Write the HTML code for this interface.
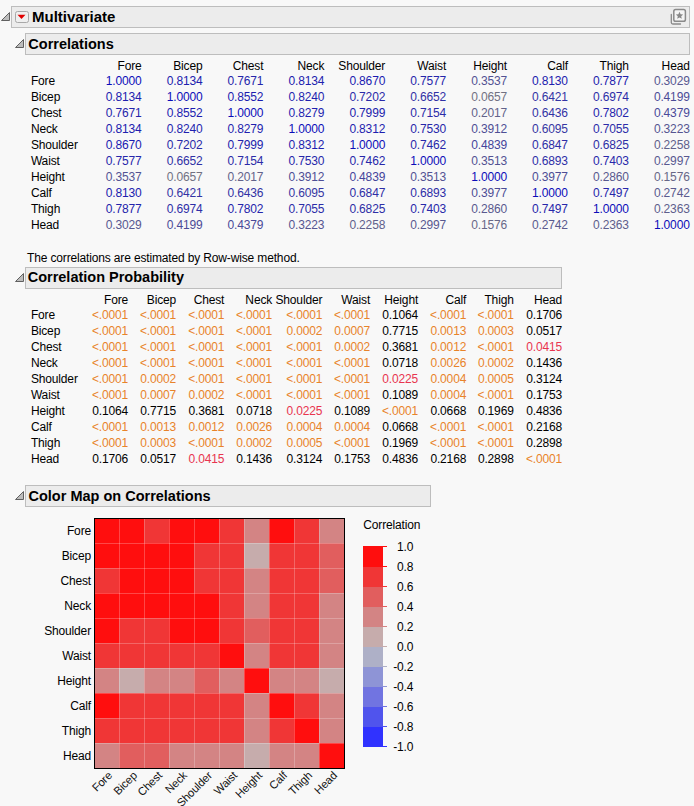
<!DOCTYPE html>
<html><head><meta charset="utf-8"><style>
html,body{margin:0;padding:0;}
body{width:694px;height:806px;background:#f8f8f8;position:relative;overflow:hidden;font-family:"Liberation Sans", sans-serif;}
.t{position:absolute;white-space:nowrap;letter-spacing:-0.15px;}
.rot{transform-origin:100% 0%;transform:rotate(-45deg);}
</style></head><body>
<div style="position:absolute;left:11px;top:6px;width:677px;height:20px;box-sizing:content-box;background:#ececec;border:1px solid #bdbdbd"></div><div style="position:absolute;left:25px;top:33px;width:663px;height:20px;box-sizing:content-box;background:#ececec;border:1px solid #bdbdbd"></div><div style="position:absolute;left:25px;top:267px;width:535px;height:20px;box-sizing:content-box;background:#ececec;border:1px solid #bdbdbd"></div><div style="position:absolute;left:25px;top:485px;width:404px;height:20px;box-sizing:content-box;background:#ececec;border:1px solid #bdbdbd"></div>
<svg style="position:absolute;left:0;top:0" width="694" height="806"><polygon points="1.5,20.5 9.5,20.5 9.5,12.5" fill="#bdbdbd" stroke="#606060" stroke-width="1" stroke-linejoin="round"/><polygon points="15.5,47.5 23.5,47.5 23.5,39.5" fill="#bdbdbd" stroke="#606060" stroke-width="1" stroke-linejoin="round"/><polygon points="15.5,281.5 23.5,281.5 23.5,273.5" fill="#bdbdbd" stroke="#606060" stroke-width="1" stroke-linejoin="round"/><polygon points="15.5,499.5 23.5,499.5 23.5,491.5" fill="#bdbdbd" stroke="#606060" stroke-width="1" stroke-linejoin="round"/><rect x="15.5" y="11.5" width="13" height="11" rx="2" ry="2" fill="#efefef" stroke="#a8a8a8" stroke-width="1"/><polygon points="17.5,14.8 25.5,14.8 21.5,19" fill="#e00000"/><path d="M671.3,14.5 V22.5 Q671.3,24 672.8,24 H680.5" fill="none" stroke="#8a8a8a" stroke-width="1.3" stroke-linecap="round"/><rect x="673.8" y="9.6" width="11.6" height="11.6" rx="1.8" fill="#f4f4f4" stroke="#8a8a8a" stroke-width="1.5"/><polygon points="679.5,11.8 680.6,14.3 683.2,14.5 681.2,16.2 681.8,18.8 679.5,17.4 677.2,18.8 677.8,16.2 675.8,14.5 678.4,14.3" fill="#888"/><rect x="95" y="519" width="24" height="24" fill="#ff0e0e"/><rect x="119" y="519" width="25" height="24" fill="#ff0e0e"/><rect x="144" y="519" width="25" height="24" fill="#f03636"/><rect x="169" y="519" width="25" height="24" fill="#ff0e0e"/><rect x="194" y="519" width="25" height="24" fill="#ff0e0e"/><rect x="219" y="519" width="25" height="24" fill="#f03636"/><rect x="244" y="519" width="25" height="24" fill="#d38484"/><rect x="269" y="519" width="25" height="24" fill="#ff0e0e"/><rect x="294" y="519" width="25" height="24" fill="#f03636"/><rect x="319" y="519" width="25" height="24" fill="#d38484"/><rect x="95" y="543" width="24" height="25" fill="#ff0e0e"/><rect x="119" y="543" width="25" height="25" fill="#ff0e0e"/><rect x="144" y="543" width="25" height="25" fill="#ff0e0e"/><rect x="169" y="543" width="25" height="25" fill="#ff0e0e"/><rect x="194" y="543" width="25" height="25" fill="#f03636"/><rect x="219" y="543" width="25" height="25" fill="#f03636"/><rect x="244" y="543" width="25" height="25" fill="#c6acac"/><rect x="269" y="543" width="25" height="25" fill="#f03636"/><rect x="294" y="543" width="25" height="25" fill="#f03636"/><rect x="319" y="543" width="25" height="25" fill="#e15e5e"/><rect x="95" y="568" width="24" height="25" fill="#f03636"/><rect x="119" y="568" width="25" height="25" fill="#ff0e0e"/><rect x="144" y="568" width="25" height="25" fill="#ff0e0e"/><rect x="169" y="568" width="25" height="25" fill="#ff0e0e"/><rect x="194" y="568" width="25" height="25" fill="#f03636"/><rect x="219" y="568" width="25" height="25" fill="#f03636"/><rect x="244" y="568" width="25" height="25" fill="#d38484"/><rect x="269" y="568" width="25" height="25" fill="#f03636"/><rect x="294" y="568" width="25" height="25" fill="#f03636"/><rect x="319" y="568" width="25" height="25" fill="#e15e5e"/><rect x="95" y="593" width="24" height="25" fill="#ff0e0e"/><rect x="119" y="593" width="25" height="25" fill="#ff0e0e"/><rect x="144" y="593" width="25" height="25" fill="#ff0e0e"/><rect x="169" y="593" width="25" height="25" fill="#ff0e0e"/><rect x="194" y="593" width="25" height="25" fill="#ff0e0e"/><rect x="219" y="593" width="25" height="25" fill="#f03636"/><rect x="244" y="593" width="25" height="25" fill="#d38484"/><rect x="269" y="593" width="25" height="25" fill="#f03636"/><rect x="294" y="593" width="25" height="25" fill="#f03636"/><rect x="319" y="593" width="25" height="25" fill="#d38484"/><rect x="95" y="618" width="24" height="25" fill="#ff0e0e"/><rect x="119" y="618" width="25" height="25" fill="#f03636"/><rect x="144" y="618" width="25" height="25" fill="#f03636"/><rect x="169" y="618" width="25" height="25" fill="#ff0e0e"/><rect x="194" y="618" width="25" height="25" fill="#ff0e0e"/><rect x="219" y="618" width="25" height="25" fill="#f03636"/><rect x="244" y="618" width="25" height="25" fill="#e15e5e"/><rect x="269" y="618" width="25" height="25" fill="#f03636"/><rect x="294" y="618" width="25" height="25" fill="#f03636"/><rect x="319" y="618" width="25" height="25" fill="#d38484"/><rect x="95" y="643" width="24" height="25" fill="#f03636"/><rect x="119" y="643" width="25" height="25" fill="#f03636"/><rect x="144" y="643" width="25" height="25" fill="#f03636"/><rect x="169" y="643" width="25" height="25" fill="#f03636"/><rect x="194" y="643" width="25" height="25" fill="#f03636"/><rect x="219" y="643" width="25" height="25" fill="#ff0e0e"/><rect x="244" y="643" width="25" height="25" fill="#d38484"/><rect x="269" y="643" width="25" height="25" fill="#f03636"/><rect x="294" y="643" width="25" height="25" fill="#f03636"/><rect x="319" y="643" width="25" height="25" fill="#d38484"/><rect x="95" y="668" width="24" height="25" fill="#d38484"/><rect x="119" y="668" width="25" height="25" fill="#c6acac"/><rect x="144" y="668" width="25" height="25" fill="#d38484"/><rect x="169" y="668" width="25" height="25" fill="#d38484"/><rect x="194" y="668" width="25" height="25" fill="#e15e5e"/><rect x="219" y="668" width="25" height="25" fill="#d38484"/><rect x="244" y="668" width="25" height="25" fill="#ff0e0e"/><rect x="269" y="668" width="25" height="25" fill="#d38484"/><rect x="294" y="668" width="25" height="25" fill="#d38484"/><rect x="319" y="668" width="25" height="25" fill="#c6acac"/><rect x="95" y="693" width="24" height="25" fill="#ff0e0e"/><rect x="119" y="693" width="25" height="25" fill="#f03636"/><rect x="144" y="693" width="25" height="25" fill="#f03636"/><rect x="169" y="693" width="25" height="25" fill="#f03636"/><rect x="194" y="693" width="25" height="25" fill="#f03636"/><rect x="219" y="693" width="25" height="25" fill="#f03636"/><rect x="244" y="693" width="25" height="25" fill="#d38484"/><rect x="269" y="693" width="25" height="25" fill="#ff0e0e"/><rect x="294" y="693" width="25" height="25" fill="#f03636"/><rect x="319" y="693" width="25" height="25" fill="#d38484"/><rect x="95" y="718" width="24" height="25" fill="#f03636"/><rect x="119" y="718" width="25" height="25" fill="#f03636"/><rect x="144" y="718" width="25" height="25" fill="#f03636"/><rect x="169" y="718" width="25" height="25" fill="#f03636"/><rect x="194" y="718" width="25" height="25" fill="#f03636"/><rect x="219" y="718" width="25" height="25" fill="#f03636"/><rect x="244" y="718" width="25" height="25" fill="#d38484"/><rect x="269" y="718" width="25" height="25" fill="#f03636"/><rect x="294" y="718" width="25" height="25" fill="#ff0e0e"/><rect x="319" y="718" width="25" height="25" fill="#d38484"/><rect x="95" y="743" width="24" height="25" fill="#d38484"/><rect x="119" y="743" width="25" height="25" fill="#e15e5e"/><rect x="144" y="743" width="25" height="25" fill="#e15e5e"/><rect x="169" y="743" width="25" height="25" fill="#d38484"/><rect x="194" y="743" width="25" height="25" fill="#d38484"/><rect x="219" y="743" width="25" height="25" fill="#d38484"/><rect x="244" y="743" width="25" height="25" fill="#c6acac"/><rect x="269" y="743" width="25" height="25" fill="#d38484"/><rect x="294" y="743" width="25" height="25" fill="#d38484"/><rect x="319" y="743" width="25" height="25" fill="#ff0e0e"/><line x1="119.5" y1="519" x2="119.5" y2="768" stroke="rgba(255,255,255,0.24)" stroke-width="1"/><line x1="95" y1="543.5" x2="344" y2="543.5" stroke="rgba(255,255,255,0.24)" stroke-width="1"/><line x1="144.5" y1="519" x2="144.5" y2="768" stroke="rgba(255,255,255,0.24)" stroke-width="1"/><line x1="95" y1="568.5" x2="344" y2="568.5" stroke="rgba(255,255,255,0.24)" stroke-width="1"/><line x1="169.5" y1="519" x2="169.5" y2="768" stroke="rgba(255,255,255,0.24)" stroke-width="1"/><line x1="95" y1="593.5" x2="344" y2="593.5" stroke="rgba(255,255,255,0.24)" stroke-width="1"/><line x1="194.5" y1="519" x2="194.5" y2="768" stroke="rgba(255,255,255,0.24)" stroke-width="1"/><line x1="95" y1="618.5" x2="344" y2="618.5" stroke="rgba(255,255,255,0.24)" stroke-width="1"/><line x1="219.5" y1="519" x2="219.5" y2="768" stroke="rgba(255,255,255,0.24)" stroke-width="1"/><line x1="95" y1="643.5" x2="344" y2="643.5" stroke="rgba(255,255,255,0.24)" stroke-width="1"/><line x1="244.5" y1="519" x2="244.5" y2="768" stroke="rgba(255,255,255,0.24)" stroke-width="1"/><line x1="95" y1="668.5" x2="344" y2="668.5" stroke="rgba(255,255,255,0.24)" stroke-width="1"/><line x1="269.5" y1="519" x2="269.5" y2="768" stroke="rgba(255,255,255,0.24)" stroke-width="1"/><line x1="95" y1="693.5" x2="344" y2="693.5" stroke="rgba(255,255,255,0.24)" stroke-width="1"/><line x1="294.5" y1="519" x2="294.5" y2="768" stroke="rgba(255,255,255,0.24)" stroke-width="1"/><line x1="95" y1="718.5" x2="344" y2="718.5" stroke="rgba(255,255,255,0.24)" stroke-width="1"/><line x1="319.5" y1="519" x2="319.5" y2="768" stroke="rgba(255,255,255,0.24)" stroke-width="1"/><line x1="95" y1="743.5" x2="344" y2="743.5" stroke="rgba(255,255,255,0.24)" stroke-width="1"/><rect x="94.5" y="518.5" width="250" height="250" fill="none" stroke="#000" stroke-width="1"/><text x="112.80" y="776.20" transform="rotate(-45 112.80 776.20)" text-anchor="end" font-size="11.3" letter-spacing="-0.1" fill="#111">Fore</text><text x="137.80" y="776.20" transform="rotate(-45 137.80 776.20)" text-anchor="end" font-size="11.3" letter-spacing="-0.1" fill="#111">Bicep</text><text x="162.80" y="776.20" transform="rotate(-45 162.80 776.20)" text-anchor="end" font-size="11.3" letter-spacing="-0.1" fill="#111">Chest</text><text x="187.80" y="776.20" transform="rotate(-45 187.80 776.20)" text-anchor="end" font-size="11.3" letter-spacing="-0.1" fill="#111">Neck</text><text x="212.80" y="776.20" transform="rotate(-45 212.80 776.20)" text-anchor="end" font-size="11.3" letter-spacing="-0.1" fill="#111">Shoulder</text><text x="237.80" y="776.20" transform="rotate(-45 237.80 776.20)" text-anchor="end" font-size="11.3" letter-spacing="-0.1" fill="#111">Waist</text><text x="262.80" y="776.20" transform="rotate(-45 262.80 776.20)" text-anchor="end" font-size="11.3" letter-spacing="-0.1" fill="#111">Height</text><text x="287.80" y="776.20" transform="rotate(-45 287.80 776.20)" text-anchor="end" font-size="11.3" letter-spacing="-0.1" fill="#111">Calf</text><text x="312.80" y="776.20" transform="rotate(-45 312.80 776.20)" text-anchor="end" font-size="11.3" letter-spacing="-0.1" fill="#111">Thigh</text><text x="337.80" y="776.20" transform="rotate(-45 337.80 776.20)" text-anchor="end" font-size="11.3" letter-spacing="-0.1" fill="#111">Head</text><rect x="363" y="546" width="20" height="21" fill="#ff0e0e"/><rect x="363" y="567" width="20" height="20" fill="#f03636"/><rect x="363" y="587" width="20" height="20" fill="#e15e5e"/><rect x="363" y="607" width="20" height="20" fill="#d38484"/><rect x="363" y="627" width="20" height="20" fill="#c6acac"/><rect x="363" y="647" width="20" height="20" fill="#aeb0c7"/><rect x="363" y="667" width="20" height="20" fill="#8e94d6"/><rect x="363" y="687" width="20" height="20" fill="#7174e1"/><rect x="363" y="707" width="20" height="20" fill="#5054ed"/><rect x="363" y="727" width="20" height="20" fill="#3032ff"/><line x1="383" y1="546.5" x2="387" y2="546.5" stroke="#ff0e0e" stroke-width="1"/><line x1="383" y1="566.5" x2="387" y2="566.5" stroke="#ff0e0e" stroke-width="1"/><line x1="383" y1="586.5" x2="387" y2="586.5" stroke="#f03636" stroke-width="1"/><line x1="383" y1="606.5" x2="387" y2="606.5" stroke="#e15e5e" stroke-width="1"/><line x1="383" y1="626.5" x2="387" y2="626.5" stroke="#d38484" stroke-width="1"/><line x1="383" y1="646.5" x2="387" y2="646.5" stroke="#c6acac" stroke-width="1"/><line x1="383" y1="666.5" x2="387" y2="666.5" stroke="#aeb0c7" stroke-width="1"/><line x1="383" y1="686.5" x2="387" y2="686.5" stroke="#8e94d6" stroke-width="1"/><line x1="383" y1="706.5" x2="387" y2="706.5" stroke="#7174e1" stroke-width="1"/><line x1="383" y1="726.5" x2="387" y2="726.5" stroke="#5054ed" stroke-width="1"/><line x1="383" y1="746.5" x2="387" y2="746.5" stroke="#3032ff" stroke-width="1"/></svg>
<div class="t" style="left:32.00px;top:8.18px;font-size:15px;line-height:17.25px;color:#000;font-weight:bold;letter-spacing:0;">Multivariate</div><div class="t" style="left:28.30px;top:36.24px;font-size:14.5px;line-height:16.67px;color:#000;font-weight:bold;letter-spacing:0;">Correlations</div><div class="t" style="left:27.70px;top:269.14px;font-size:14.5px;line-height:16.67px;color:#000;font-weight:bold;letter-spacing:0;">Correlation Probability</div><div class="t" style="left:28.50px;top:487.54px;font-size:14.5px;line-height:16.67px;color:#000;font-weight:bold;letter-spacing:0;">Color Map on Correlations</div><div class="t" style="right:552.40px;top:59.74px;font-size:12px;line-height:13.80px;color:#000;">Fore</div><div class="t" style="right:491.50px;top:59.74px;font-size:12px;line-height:13.80px;color:#000;">Bicep</div><div class="t" style="right:430.60px;top:59.74px;font-size:12px;line-height:13.80px;color:#000;">Chest</div><div class="t" style="right:369.70px;top:59.74px;font-size:12px;line-height:13.80px;color:#000;">Neck</div><div class="t" style="right:308.80px;top:59.74px;font-size:12px;line-height:13.80px;color:#000;">Shoulder</div><div class="t" style="right:247.90px;top:59.74px;font-size:12px;line-height:13.80px;color:#000;">Waist</div><div class="t" style="right:187.00px;top:59.74px;font-size:12px;line-height:13.80px;color:#000;">Height</div><div class="t" style="right:126.10px;top:59.74px;font-size:12px;line-height:13.80px;color:#000;">Calf</div><div class="t" style="right:65.20px;top:59.74px;font-size:12px;line-height:13.80px;color:#000;">Thigh</div><div class="t" style="right:4.30px;top:59.74px;font-size:12px;line-height:13.80px;color:#000;">Head</div><div class="t" style="left:30.90px;top:74.74px;font-size:12px;line-height:13.80px;color:#000;">Fore</div><div class="t" style="right:552.40px;top:74.74px;font-size:12px;line-height:13.80px;color:#0c0cb9;">1.0000</div><div class="t" style="right:491.50px;top:74.74px;font-size:12px;line-height:13.80px;color:#2020ae;">0.8134</div><div class="t" style="right:430.60px;top:74.74px;font-size:12px;line-height:13.80px;color:#2525ab;">0.7671</div><div class="t" style="right:369.70px;top:74.74px;font-size:12px;line-height:13.80px;color:#2020ae;">0.8134</div><div class="t" style="right:308.80px;top:74.74px;font-size:12px;line-height:13.80px;color:#1a1ab1;">0.8670</div><div class="t" style="right:247.90px;top:74.74px;font-size:12px;line-height:13.80px;color:#2626ab;">0.7577</div><div class="t" style="right:187.00px;top:74.74px;font-size:12px;line-height:13.80px;color:#525293;">0.3537</div><div class="t" style="right:126.10px;top:74.74px;font-size:12px;line-height:13.80px;color:#2020ae;">0.8130</div><div class="t" style="right:65.20px;top:74.74px;font-size:12px;line-height:13.80px;color:#2323ac;">0.7877</div><div class="t" style="right:4.30px;top:74.74px;font-size:12px;line-height:13.80px;color:#575790;">0.3029</div><div class="t" style="left:30.90px;top:90.74px;font-size:12px;line-height:13.80px;color:#000;">Bicep</div><div class="t" style="right:552.40px;top:90.74px;font-size:12px;line-height:13.80px;color:#2020ae;">0.8134</div><div class="t" style="right:491.50px;top:90.74px;font-size:12px;line-height:13.80px;color:#0c0cb9;">1.0000</div><div class="t" style="right:430.60px;top:90.74px;font-size:12px;line-height:13.80px;color:#1c1cb0;">0.8552</div><div class="t" style="right:369.70px;top:90.74px;font-size:12px;line-height:13.80px;color:#1f1faf;">0.8240</div><div class="t" style="right:308.80px;top:90.74px;font-size:12px;line-height:13.80px;color:#2a2aa8;">0.7202</div><div class="t" style="right:247.90px;top:90.74px;font-size:12px;line-height:13.80px;color:#3030a5;">0.6652</div><div class="t" style="right:187.00px;top:90.74px;font-size:12px;line-height:13.80px;color:#717182;">0.0657</div><div class="t" style="right:126.10px;top:90.74px;font-size:12px;line-height:13.80px;color:#3333a4;">0.6421</div><div class="t" style="right:65.20px;top:90.74px;font-size:12px;line-height:13.80px;color:#2d2da7;">0.6974</div><div class="t" style="right:4.30px;top:90.74px;font-size:12px;line-height:13.80px;color:#4b4b97;">0.4199</div><div class="t" style="left:30.90px;top:106.74px;font-size:12px;line-height:13.80px;color:#000;">Chest</div><div class="t" style="right:552.40px;top:106.74px;font-size:12px;line-height:13.80px;color:#2525ab;">0.7671</div><div class="t" style="right:491.50px;top:106.74px;font-size:12px;line-height:13.80px;color:#1c1cb0;">0.8552</div><div class="t" style="right:430.60px;top:106.74px;font-size:12px;line-height:13.80px;color:#0c0cb9;">1.0000</div><div class="t" style="right:369.70px;top:106.74px;font-size:12px;line-height:13.80px;color:#1f1faf;">0.8279</div><div class="t" style="right:308.80px;top:106.74px;font-size:12px;line-height:13.80px;color:#2222ad;">0.7999</div><div class="t" style="right:247.90px;top:106.74px;font-size:12px;line-height:13.80px;color:#2b2ba8;">0.7154</div><div class="t" style="right:187.00px;top:106.74px;font-size:12px;line-height:13.80px;color:#62628a;">0.2017</div><div class="t" style="right:126.10px;top:106.74px;font-size:12px;line-height:13.80px;color:#3232a4;">0.6436</div><div class="t" style="right:65.20px;top:106.74px;font-size:12px;line-height:13.80px;color:#2424ac;">0.7802</div><div class="t" style="right:4.30px;top:106.74px;font-size:12px;line-height:13.80px;color:#494998;">0.4379</div><div class="t" style="left:30.90px;top:122.74px;font-size:12px;line-height:13.80px;color:#000;">Neck</div><div class="t" style="right:552.40px;top:122.74px;font-size:12px;line-height:13.80px;color:#2020ae;">0.8134</div><div class="t" style="right:491.50px;top:122.74px;font-size:12px;line-height:13.80px;color:#1f1faf;">0.8240</div><div class="t" style="right:430.60px;top:122.74px;font-size:12px;line-height:13.80px;color:#1f1faf;">0.8279</div><div class="t" style="right:369.70px;top:122.74px;font-size:12px;line-height:13.80px;color:#0c0cb9;">1.0000</div><div class="t" style="right:308.80px;top:122.74px;font-size:12px;line-height:13.80px;color:#1e1eaf;">0.8312</div><div class="t" style="right:247.90px;top:122.74px;font-size:12px;line-height:13.80px;color:#2727aa;">0.7530</div><div class="t" style="right:187.00px;top:122.74px;font-size:12px;line-height:13.80px;color:#4e4e95;">0.3912</div><div class="t" style="right:126.10px;top:122.74px;font-size:12px;line-height:13.80px;color:#3636a2;">0.6095</div><div class="t" style="right:65.20px;top:122.74px;font-size:12px;line-height:13.80px;color:#2c2ca8;">0.7055</div><div class="t" style="right:4.30px;top:122.74px;font-size:12px;line-height:13.80px;color:#555591;">0.3223</div><div class="t" style="left:30.90px;top:138.74px;font-size:12px;line-height:13.80px;color:#000;">Shoulder</div><div class="t" style="right:552.40px;top:138.74px;font-size:12px;line-height:13.80px;color:#1a1ab1;">0.8670</div><div class="t" style="right:491.50px;top:138.74px;font-size:12px;line-height:13.80px;color:#2a2aa8;">0.7202</div><div class="t" style="right:430.60px;top:138.74px;font-size:12px;line-height:13.80px;color:#2222ad;">0.7999</div><div class="t" style="right:369.70px;top:138.74px;font-size:12px;line-height:13.80px;color:#1e1eaf;">0.8312</div><div class="t" style="right:308.80px;top:138.74px;font-size:12px;line-height:13.80px;color:#0c0cb9;">1.0000</div><div class="t" style="right:247.90px;top:138.74px;font-size:12px;line-height:13.80px;color:#2727aa;">0.7462</div><div class="t" style="right:187.00px;top:138.74px;font-size:12px;line-height:13.80px;color:#44449b;">0.4839</div><div class="t" style="right:126.10px;top:138.74px;font-size:12px;line-height:13.80px;color:#2e2ea6;">0.6847</div><div class="t" style="right:65.20px;top:138.74px;font-size:12px;line-height:13.80px;color:#2e2ea6;">0.6825</div><div class="t" style="right:4.30px;top:138.74px;font-size:12px;line-height:13.80px;color:#60608b;">0.2258</div><div class="t" style="left:30.90px;top:154.74px;font-size:12px;line-height:13.80px;color:#000;">Waist</div><div class="t" style="right:552.40px;top:154.74px;font-size:12px;line-height:13.80px;color:#2626ab;">0.7577</div><div class="t" style="right:491.50px;top:154.74px;font-size:12px;line-height:13.80px;color:#3030a5;">0.6652</div><div class="t" style="right:430.60px;top:154.74px;font-size:12px;line-height:13.80px;color:#2b2ba8;">0.7154</div><div class="t" style="right:369.70px;top:154.74px;font-size:12px;line-height:13.80px;color:#2727aa;">0.7530</div><div class="t" style="right:308.80px;top:154.74px;font-size:12px;line-height:13.80px;color:#2727aa;">0.7462</div><div class="t" style="right:247.90px;top:154.74px;font-size:12px;line-height:13.80px;color:#0c0cb9;">1.0000</div><div class="t" style="right:187.00px;top:154.74px;font-size:12px;line-height:13.80px;color:#525293;">0.3513</div><div class="t" style="right:126.10px;top:154.74px;font-size:12px;line-height:13.80px;color:#2e2ea7;">0.6893</div><div class="t" style="right:65.20px;top:154.74px;font-size:12px;line-height:13.80px;color:#2828aa;">0.7403</div><div class="t" style="right:4.30px;top:154.74px;font-size:12px;line-height:13.80px;color:#585890;">0.2997</div><div class="t" style="left:30.90px;top:170.74px;font-size:12px;line-height:13.80px;color:#000;">Height</div><div class="t" style="right:552.40px;top:170.74px;font-size:12px;line-height:13.80px;color:#525293;">0.3537</div><div class="t" style="right:491.50px;top:170.74px;font-size:12px;line-height:13.80px;color:#717182;">0.0657</div><div class="t" style="right:430.60px;top:170.74px;font-size:12px;line-height:13.80px;color:#62628a;">0.2017</div><div class="t" style="right:369.70px;top:170.74px;font-size:12px;line-height:13.80px;color:#4e4e95;">0.3912</div><div class="t" style="right:308.80px;top:170.74px;font-size:12px;line-height:13.80px;color:#44449b;">0.4839</div><div class="t" style="right:247.90px;top:170.74px;font-size:12px;line-height:13.80px;color:#525293;">0.3513</div><div class="t" style="right:187.00px;top:170.74px;font-size:12px;line-height:13.80px;color:#0c0cb9;">1.0000</div><div class="t" style="right:126.10px;top:170.74px;font-size:12px;line-height:13.80px;color:#4d4d95;">0.3977</div><div class="t" style="right:65.20px;top:170.74px;font-size:12px;line-height:13.80px;color:#59598f;">0.2860</div><div class="t" style="right:4.30px;top:170.74px;font-size:12px;line-height:13.80px;color:#676787;">0.1576</div><div class="t" style="left:30.90px;top:186.74px;font-size:12px;line-height:13.80px;color:#000;">Calf</div><div class="t" style="right:552.40px;top:186.74px;font-size:12px;line-height:13.80px;color:#2020ae;">0.8130</div><div class="t" style="right:491.50px;top:186.74px;font-size:12px;line-height:13.80px;color:#3333a4;">0.6421</div><div class="t" style="right:430.60px;top:186.74px;font-size:12px;line-height:13.80px;color:#3232a4;">0.6436</div><div class="t" style="right:369.70px;top:186.74px;font-size:12px;line-height:13.80px;color:#3636a2;">0.6095</div><div class="t" style="right:308.80px;top:186.74px;font-size:12px;line-height:13.80px;color:#2e2ea6;">0.6847</div><div class="t" style="right:247.90px;top:186.74px;font-size:12px;line-height:13.80px;color:#2e2ea7;">0.6893</div><div class="t" style="right:187.00px;top:186.74px;font-size:12px;line-height:13.80px;color:#4d4d95;">0.3977</div><div class="t" style="right:126.10px;top:186.74px;font-size:12px;line-height:13.80px;color:#0c0cb9;">1.0000</div><div class="t" style="right:65.20px;top:186.74px;font-size:12px;line-height:13.80px;color:#2727aa;">0.7497</div><div class="t" style="right:4.30px;top:186.74px;font-size:12px;line-height:13.80px;color:#5a5a8e;">0.2742</div><div class="t" style="left:30.90px;top:202.74px;font-size:12px;line-height:13.80px;color:#000;">Thigh</div><div class="t" style="right:552.40px;top:202.74px;font-size:12px;line-height:13.80px;color:#2323ac;">0.7877</div><div class="t" style="right:491.50px;top:202.74px;font-size:12px;line-height:13.80px;color:#2d2da7;">0.6974</div><div class="t" style="right:430.60px;top:202.74px;font-size:12px;line-height:13.80px;color:#2424ac;">0.7802</div><div class="t" style="right:369.70px;top:202.74px;font-size:12px;line-height:13.80px;color:#2c2ca8;">0.7055</div><div class="t" style="right:308.80px;top:202.74px;font-size:12px;line-height:13.80px;color:#2e2ea6;">0.6825</div><div class="t" style="right:247.90px;top:202.74px;font-size:12px;line-height:13.80px;color:#2828aa;">0.7403</div><div class="t" style="right:187.00px;top:202.74px;font-size:12px;line-height:13.80px;color:#59598f;">0.2860</div><div class="t" style="right:126.10px;top:202.74px;font-size:12px;line-height:13.80px;color:#2727aa;">0.7497</div><div class="t" style="right:65.20px;top:202.74px;font-size:12px;line-height:13.80px;color:#0c0cb9;">1.0000</div><div class="t" style="right:4.30px;top:202.74px;font-size:12px;line-height:13.80px;color:#5e5e8c;">0.2363</div><div class="t" style="left:30.90px;top:218.74px;font-size:12px;line-height:13.80px;color:#000;">Head</div><div class="t" style="right:552.40px;top:218.74px;font-size:12px;line-height:13.80px;color:#575790;">0.3029</div><div class="t" style="right:491.50px;top:218.74px;font-size:12px;line-height:13.80px;color:#4b4b97;">0.4199</div><div class="t" style="right:430.60px;top:218.74px;font-size:12px;line-height:13.80px;color:#494998;">0.4379</div><div class="t" style="right:369.70px;top:218.74px;font-size:12px;line-height:13.80px;color:#555591;">0.3223</div><div class="t" style="right:308.80px;top:218.74px;font-size:12px;line-height:13.80px;color:#60608b;">0.2258</div><div class="t" style="right:247.90px;top:218.74px;font-size:12px;line-height:13.80px;color:#585890;">0.2997</div><div class="t" style="right:187.00px;top:218.74px;font-size:12px;line-height:13.80px;color:#676787;">0.1576</div><div class="t" style="right:126.10px;top:218.74px;font-size:12px;line-height:13.80px;color:#5a5a8e;">0.2742</div><div class="t" style="right:65.20px;top:218.74px;font-size:12px;line-height:13.80px;color:#5e5e8c;">0.2363</div><div class="t" style="right:4.30px;top:218.74px;font-size:12px;line-height:13.80px;color:#0c0cb9;">1.0000</div><div class="t" style="left:27.00px;top:251.64px;font-size:12px;line-height:13.80px;color:#000;">The correlations are estimated by Row-wise method.</div><div class="t" style="right:565.90px;top:294.04px;font-size:12px;line-height:13.80px;color:#000;">Fore</div><div class="t" style="right:517.90px;top:294.04px;font-size:12px;line-height:13.80px;color:#000;">Bicep</div><div class="t" style="right:469.70px;top:294.04px;font-size:12px;line-height:13.80px;color:#000;">Chest</div><div class="t" style="right:421.90px;top:294.04px;font-size:12px;line-height:13.80px;color:#000;">Neck</div><div class="t" style="right:371.70px;top:294.04px;font-size:12px;line-height:13.80px;color:#000;">Shoulder</div><div class="t" style="right:323.90px;top:294.04px;font-size:12px;line-height:13.80px;color:#000;">Waist</div><div class="t" style="right:275.90px;top:294.04px;font-size:12px;line-height:13.80px;color:#000;">Height</div><div class="t" style="right:227.80px;top:294.04px;font-size:12px;line-height:13.80px;color:#000;">Calf</div><div class="t" style="right:180.30px;top:294.04px;font-size:12px;line-height:13.80px;color:#000;">Thigh</div><div class="t" style="right:131.90px;top:294.04px;font-size:12px;line-height:13.80px;color:#000;">Head</div><div class="t" style="left:30.90px;top:308.54px;font-size:12px;line-height:13.80px;color:#000;">Fore</div><div class="t" style="right:565.90px;top:308.54px;font-size:12px;line-height:13.80px;color:#e8832a;">&lt;.0001</div><div class="t" style="right:517.90px;top:308.54px;font-size:12px;line-height:13.80px;color:#e8832a;">&lt;.0001</div><div class="t" style="right:469.70px;top:308.54px;font-size:12px;line-height:13.80px;color:#e8832a;">&lt;.0001</div><div class="t" style="right:421.90px;top:308.54px;font-size:12px;line-height:13.80px;color:#e8832a;">&lt;.0001</div><div class="t" style="right:371.70px;top:308.54px;font-size:12px;line-height:13.80px;color:#e8832a;">&lt;.0001</div><div class="t" style="right:323.90px;top:308.54px;font-size:12px;line-height:13.80px;color:#e8832a;">&lt;.0001</div><div class="t" style="right:275.90px;top:308.54px;font-size:12px;line-height:13.80px;color:#000;">0.1064</div><div class="t" style="right:227.80px;top:308.54px;font-size:12px;line-height:13.80px;color:#e8832a;">&lt;.0001</div><div class="t" style="right:180.30px;top:308.54px;font-size:12px;line-height:13.80px;color:#e8832a;">&lt;.0001</div><div class="t" style="right:131.90px;top:308.54px;font-size:12px;line-height:13.80px;color:#000;">0.1706</div><div class="t" style="left:30.90px;top:324.54px;font-size:12px;line-height:13.80px;color:#000;">Bicep</div><div class="t" style="right:565.90px;top:324.54px;font-size:12px;line-height:13.80px;color:#e8832a;">&lt;.0001</div><div class="t" style="right:517.90px;top:324.54px;font-size:12px;line-height:13.80px;color:#e8832a;">&lt;.0001</div><div class="t" style="right:469.70px;top:324.54px;font-size:12px;line-height:13.80px;color:#e8832a;">&lt;.0001</div><div class="t" style="right:421.90px;top:324.54px;font-size:12px;line-height:13.80px;color:#e8832a;">&lt;.0001</div><div class="t" style="right:371.70px;top:324.54px;font-size:12px;line-height:13.80px;color:#e8832a;">0.0002</div><div class="t" style="right:323.90px;top:324.54px;font-size:12px;line-height:13.80px;color:#e8832a;">0.0007</div><div class="t" style="right:275.90px;top:324.54px;font-size:12px;line-height:13.80px;color:#000;">0.7715</div><div class="t" style="right:227.80px;top:324.54px;font-size:12px;line-height:13.80px;color:#e8832a;">0.0013</div><div class="t" style="right:180.30px;top:324.54px;font-size:12px;line-height:13.80px;color:#e8832a;">0.0003</div><div class="t" style="right:131.90px;top:324.54px;font-size:12px;line-height:13.80px;color:#000;">0.0517</div><div class="t" style="left:30.90px;top:340.54px;font-size:12px;line-height:13.80px;color:#000;">Chest</div><div class="t" style="right:565.90px;top:340.54px;font-size:12px;line-height:13.80px;color:#e8832a;">&lt;.0001</div><div class="t" style="right:517.90px;top:340.54px;font-size:12px;line-height:13.80px;color:#e8832a;">&lt;.0001</div><div class="t" style="right:469.70px;top:340.54px;font-size:12px;line-height:13.80px;color:#e8832a;">&lt;.0001</div><div class="t" style="right:421.90px;top:340.54px;font-size:12px;line-height:13.80px;color:#e8832a;">&lt;.0001</div><div class="t" style="right:371.70px;top:340.54px;font-size:12px;line-height:13.80px;color:#e8832a;">&lt;.0001</div><div class="t" style="right:323.90px;top:340.54px;font-size:12px;line-height:13.80px;color:#e8832a;">0.0002</div><div class="t" style="right:275.90px;top:340.54px;font-size:12px;line-height:13.80px;color:#000;">0.3681</div><div class="t" style="right:227.80px;top:340.54px;font-size:12px;line-height:13.80px;color:#e8832a;">0.0012</div><div class="t" style="right:180.30px;top:340.54px;font-size:12px;line-height:13.80px;color:#e8832a;">&lt;.0001</div><div class="t" style="right:131.90px;top:340.54px;font-size:12px;line-height:13.80px;color:#e8354f;">0.0415</div><div class="t" style="left:30.90px;top:356.54px;font-size:12px;line-height:13.80px;color:#000;">Neck</div><div class="t" style="right:565.90px;top:356.54px;font-size:12px;line-height:13.80px;color:#e8832a;">&lt;.0001</div><div class="t" style="right:517.90px;top:356.54px;font-size:12px;line-height:13.80px;color:#e8832a;">&lt;.0001</div><div class="t" style="right:469.70px;top:356.54px;font-size:12px;line-height:13.80px;color:#e8832a;">&lt;.0001</div><div class="t" style="right:421.90px;top:356.54px;font-size:12px;line-height:13.80px;color:#e8832a;">&lt;.0001</div><div class="t" style="right:371.70px;top:356.54px;font-size:12px;line-height:13.80px;color:#e8832a;">&lt;.0001</div><div class="t" style="right:323.90px;top:356.54px;font-size:12px;line-height:13.80px;color:#e8832a;">&lt;.0001</div><div class="t" style="right:275.90px;top:356.54px;font-size:12px;line-height:13.80px;color:#000;">0.0718</div><div class="t" style="right:227.80px;top:356.54px;font-size:12px;line-height:13.80px;color:#e8832a;">0.0026</div><div class="t" style="right:180.30px;top:356.54px;font-size:12px;line-height:13.80px;color:#e8832a;">0.0002</div><div class="t" style="right:131.90px;top:356.54px;font-size:12px;line-height:13.80px;color:#000;">0.1436</div><div class="t" style="left:30.90px;top:372.54px;font-size:12px;line-height:13.80px;color:#000;">Shoulder</div><div class="t" style="right:565.90px;top:372.54px;font-size:12px;line-height:13.80px;color:#e8832a;">&lt;.0001</div><div class="t" style="right:517.90px;top:372.54px;font-size:12px;line-height:13.80px;color:#e8832a;">0.0002</div><div class="t" style="right:469.70px;top:372.54px;font-size:12px;line-height:13.80px;color:#e8832a;">&lt;.0001</div><div class="t" style="right:421.90px;top:372.54px;font-size:12px;line-height:13.80px;color:#e8832a;">&lt;.0001</div><div class="t" style="right:371.70px;top:372.54px;font-size:12px;line-height:13.80px;color:#e8832a;">&lt;.0001</div><div class="t" style="right:323.90px;top:372.54px;font-size:12px;line-height:13.80px;color:#e8832a;">&lt;.0001</div><div class="t" style="right:275.90px;top:372.54px;font-size:12px;line-height:13.80px;color:#e8354f;">0.0225</div><div class="t" style="right:227.80px;top:372.54px;font-size:12px;line-height:13.80px;color:#e8832a;">0.0004</div><div class="t" style="right:180.30px;top:372.54px;font-size:12px;line-height:13.80px;color:#e8832a;">0.0005</div><div class="t" style="right:131.90px;top:372.54px;font-size:12px;line-height:13.80px;color:#000;">0.3124</div><div class="t" style="left:30.90px;top:388.54px;font-size:12px;line-height:13.80px;color:#000;">Waist</div><div class="t" style="right:565.90px;top:388.54px;font-size:12px;line-height:13.80px;color:#e8832a;">&lt;.0001</div><div class="t" style="right:517.90px;top:388.54px;font-size:12px;line-height:13.80px;color:#e8832a;">0.0007</div><div class="t" style="right:469.70px;top:388.54px;font-size:12px;line-height:13.80px;color:#e8832a;">0.0002</div><div class="t" style="right:421.90px;top:388.54px;font-size:12px;line-height:13.80px;color:#e8832a;">&lt;.0001</div><div class="t" style="right:371.70px;top:388.54px;font-size:12px;line-height:13.80px;color:#e8832a;">&lt;.0001</div><div class="t" style="right:323.90px;top:388.54px;font-size:12px;line-height:13.80px;color:#e8832a;">&lt;.0001</div><div class="t" style="right:275.90px;top:388.54px;font-size:12px;line-height:13.80px;color:#000;">0.1089</div><div class="t" style="right:227.80px;top:388.54px;font-size:12px;line-height:13.80px;color:#e8832a;">0.0004</div><div class="t" style="right:180.30px;top:388.54px;font-size:12px;line-height:13.80px;color:#e8832a;">&lt;.0001</div><div class="t" style="right:131.90px;top:388.54px;font-size:12px;line-height:13.80px;color:#000;">0.1753</div><div class="t" style="left:30.90px;top:404.54px;font-size:12px;line-height:13.80px;color:#000;">Height</div><div class="t" style="right:565.90px;top:404.54px;font-size:12px;line-height:13.80px;color:#000;">0.1064</div><div class="t" style="right:517.90px;top:404.54px;font-size:12px;line-height:13.80px;color:#000;">0.7715</div><div class="t" style="right:469.70px;top:404.54px;font-size:12px;line-height:13.80px;color:#000;">0.3681</div><div class="t" style="right:421.90px;top:404.54px;font-size:12px;line-height:13.80px;color:#000;">0.0718</div><div class="t" style="right:371.70px;top:404.54px;font-size:12px;line-height:13.80px;color:#e8354f;">0.0225</div><div class="t" style="right:323.90px;top:404.54px;font-size:12px;line-height:13.80px;color:#000;">0.1089</div><div class="t" style="right:275.90px;top:404.54px;font-size:12px;line-height:13.80px;color:#e8832a;">&lt;.0001</div><div class="t" style="right:227.80px;top:404.54px;font-size:12px;line-height:13.80px;color:#000;">0.0668</div><div class="t" style="right:180.30px;top:404.54px;font-size:12px;line-height:13.80px;color:#000;">0.1969</div><div class="t" style="right:131.90px;top:404.54px;font-size:12px;line-height:13.80px;color:#000;">0.4836</div><div class="t" style="left:30.90px;top:420.54px;font-size:12px;line-height:13.80px;color:#000;">Calf</div><div class="t" style="right:565.90px;top:420.54px;font-size:12px;line-height:13.80px;color:#e8832a;">&lt;.0001</div><div class="t" style="right:517.90px;top:420.54px;font-size:12px;line-height:13.80px;color:#e8832a;">0.0013</div><div class="t" style="right:469.70px;top:420.54px;font-size:12px;line-height:13.80px;color:#e8832a;">0.0012</div><div class="t" style="right:421.90px;top:420.54px;font-size:12px;line-height:13.80px;color:#e8832a;">0.0026</div><div class="t" style="right:371.70px;top:420.54px;font-size:12px;line-height:13.80px;color:#e8832a;">0.0004</div><div class="t" style="right:323.90px;top:420.54px;font-size:12px;line-height:13.80px;color:#e8832a;">0.0004</div><div class="t" style="right:275.90px;top:420.54px;font-size:12px;line-height:13.80px;color:#000;">0.0668</div><div class="t" style="right:227.80px;top:420.54px;font-size:12px;line-height:13.80px;color:#e8832a;">&lt;.0001</div><div class="t" style="right:180.30px;top:420.54px;font-size:12px;line-height:13.80px;color:#e8832a;">&lt;.0001</div><div class="t" style="right:131.90px;top:420.54px;font-size:12px;line-height:13.80px;color:#000;">0.2168</div><div class="t" style="left:30.90px;top:436.54px;font-size:12px;line-height:13.80px;color:#000;">Thigh</div><div class="t" style="right:565.90px;top:436.54px;font-size:12px;line-height:13.80px;color:#e8832a;">&lt;.0001</div><div class="t" style="right:517.90px;top:436.54px;font-size:12px;line-height:13.80px;color:#e8832a;">0.0003</div><div class="t" style="right:469.70px;top:436.54px;font-size:12px;line-height:13.80px;color:#e8832a;">&lt;.0001</div><div class="t" style="right:421.90px;top:436.54px;font-size:12px;line-height:13.80px;color:#e8832a;">0.0002</div><div class="t" style="right:371.70px;top:436.54px;font-size:12px;line-height:13.80px;color:#e8832a;">0.0005</div><div class="t" style="right:323.90px;top:436.54px;font-size:12px;line-height:13.80px;color:#e8832a;">&lt;.0001</div><div class="t" style="right:275.90px;top:436.54px;font-size:12px;line-height:13.80px;color:#000;">0.1969</div><div class="t" style="right:227.80px;top:436.54px;font-size:12px;line-height:13.80px;color:#e8832a;">&lt;.0001</div><div class="t" style="right:180.30px;top:436.54px;font-size:12px;line-height:13.80px;color:#e8832a;">&lt;.0001</div><div class="t" style="right:131.90px;top:436.54px;font-size:12px;line-height:13.80px;color:#000;">0.2898</div><div class="t" style="left:30.90px;top:452.54px;font-size:12px;line-height:13.80px;color:#000;">Head</div><div class="t" style="right:565.90px;top:452.54px;font-size:12px;line-height:13.80px;color:#000;">0.1706</div><div class="t" style="right:517.90px;top:452.54px;font-size:12px;line-height:13.80px;color:#000;">0.0517</div><div class="t" style="right:469.70px;top:452.54px;font-size:12px;line-height:13.80px;color:#e8354f;">0.0415</div><div class="t" style="right:421.90px;top:452.54px;font-size:12px;line-height:13.80px;color:#000;">0.1436</div><div class="t" style="right:371.70px;top:452.54px;font-size:12px;line-height:13.80px;color:#000;">0.3124</div><div class="t" style="right:323.90px;top:452.54px;font-size:12px;line-height:13.80px;color:#000;">0.1753</div><div class="t" style="right:275.90px;top:452.54px;font-size:12px;line-height:13.80px;color:#000;">0.4836</div><div class="t" style="right:227.80px;top:452.54px;font-size:12px;line-height:13.80px;color:#000;">0.2168</div><div class="t" style="right:180.30px;top:452.54px;font-size:12px;line-height:13.80px;color:#000;">0.2898</div><div class="t" style="right:131.90px;top:452.54px;font-size:12px;line-height:13.80px;color:#e8832a;">&lt;.0001</div><div class="t" style="right:603.00px;top:524.84px;font-size:12px;line-height:13.80px;color:#000;">Fore</div><div class="t" style="right:603.00px;top:549.84px;font-size:12px;line-height:13.80px;color:#000;">Bicep</div><div class="t" style="right:603.00px;top:574.84px;font-size:12px;line-height:13.80px;color:#000;">Chest</div><div class="t" style="right:603.00px;top:599.84px;font-size:12px;line-height:13.80px;color:#000;">Neck</div><div class="t" style="right:603.00px;top:624.84px;font-size:12px;line-height:13.80px;color:#000;">Shoulder</div><div class="t" style="right:603.00px;top:649.84px;font-size:12px;line-height:13.80px;color:#000;">Waist</div><div class="t" style="right:603.00px;top:674.84px;font-size:12px;line-height:13.80px;color:#000;">Height</div><div class="t" style="right:603.00px;top:699.84px;font-size:12px;line-height:13.80px;color:#000;">Calf</div><div class="t" style="right:603.00px;top:724.84px;font-size:12px;line-height:13.80px;color:#000;">Thigh</div><div class="t" style="right:603.00px;top:749.84px;font-size:12px;line-height:13.80px;color:#000;">Head</div><div class="t" style="left:363.30px;top:518.64px;font-size:12px;line-height:13.80px;color:#000;">Correlation</div><div class="t" style="right:280.70px;top:541.24px;font-size:12px;line-height:13.80px;color:#000;">1.0</div><div class="t" style="right:280.70px;top:561.24px;font-size:12px;line-height:13.80px;color:#000;">0.8</div><div class="t" style="right:280.70px;top:581.24px;font-size:12px;line-height:13.80px;color:#000;">0.6</div><div class="t" style="right:280.70px;top:601.24px;font-size:12px;line-height:13.80px;color:#000;">0.4</div><div class="t" style="right:280.70px;top:621.24px;font-size:12px;line-height:13.80px;color:#000;">0.2</div><div class="t" style="right:280.70px;top:641.24px;font-size:12px;line-height:13.80px;color:#000;">0.0</div><div class="t" style="right:280.70px;top:661.24px;font-size:12px;line-height:13.80px;color:#000;">-0.2</div><div class="t" style="right:280.70px;top:681.24px;font-size:12px;line-height:13.80px;color:#000;">-0.4</div><div class="t" style="right:280.70px;top:701.24px;font-size:12px;line-height:13.80px;color:#000;">-0.6</div><div class="t" style="right:280.70px;top:721.24px;font-size:12px;line-height:13.80px;color:#000;">-0.8</div><div class="t" style="right:280.70px;top:741.24px;font-size:12px;line-height:13.80px;color:#000;">-1.0</div>
</body></html>
